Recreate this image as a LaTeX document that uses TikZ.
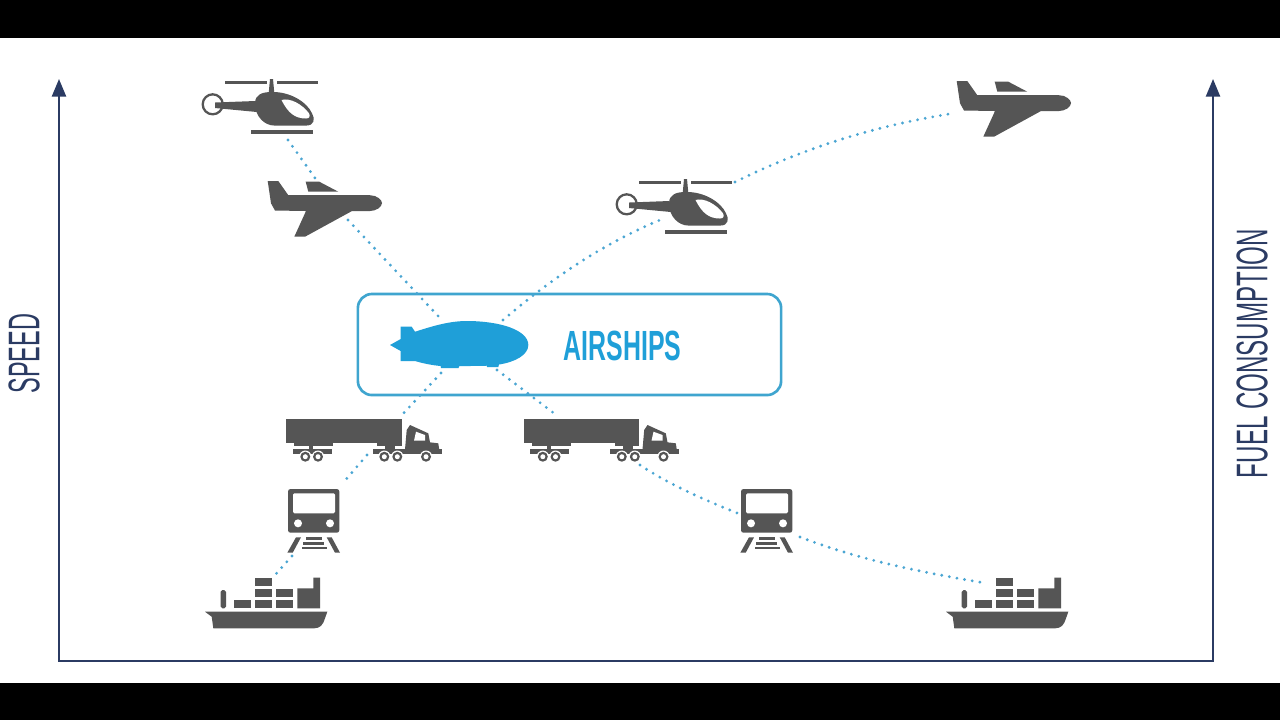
\documentclass[tikz,border=0pt]{standalone}
\usepackage{fontspec}
\setmainfont{Liberation Sans}
\usepackage{tikz}
\usetikzlibrary{arrows.meta,positioning}
\definecolor{iconcol}{HTML}{555555}
\definecolor{axiscol}{HTML}{2B3B63}
\definecolor{linkcol}{HTML}{4BA6D3}
\definecolor{boxcol}{HTML}{3FA5CF}
\definecolor{shipcol}{HTML}{1F9FD8}

\begin{document}
\begin{tikzpicture}[
        x=0.01cm,
        y=-0.01cm,
        axisline/.style={draw=axiscol, line width=0.6pt},
        link/.style={draw=linkcol, line width=0.9pt, line cap=round, dash pattern=on 0pt off 2.2pt},
        airbox/.style={draw=boxcol, line width=0.75pt, fill=white, rounded corners=4pt, minimum width=4.23cm, minimum height=1.01cm},
        axislabel/.style={text=axiscol, font=\fontsize{12.6}{14}\selectfont, inner sep=0pt},
        icon/.style={fill=iconcol, draw=none},
        >={Triangle[length=5pt,width=4pt]},
        helicopter/.pic={
            \fill[icon] (-35,-24) rectangle (7.3,-20.7);
            \fill[icon] (17.3,-24) rectangle (58.3,-20.7);
            \fill[icon] (10,-26) -- (13,-26) -- (14.5,-10) -- (8.5,-10) -- cycle;
            \draw[iconcol, line width=0.65pt] (-47.3,-0.7) circle (10);
            \fill[icon] (-45,-2.5) -- (-5,-4) -- (-3,7) -- (-45,3) -- cycle;
            \fill[icon] (-5,-1.7) .. controls (-5,-11) and (3,-13) .. (11.7,-13)
                .. controls (30,-13.5) and (47,-3) .. (52,8.3)
                .. controls (55.5,14) and (54,20.5) .. (46.7,20.5) -- (14,20.5)
                .. controls (5,20.5) and (-5,12) .. cycle;
            \fill[white] (21.5,-5) .. controls (30,-7.5) and (42,-1) .. (49,8.3)
                .. controls (50.5,11) and (49.5,13.5) .. (46,13.5)
                .. controls (35,13.5) and (28,8) .. cycle;
            \fill[icon] (-9,25.3) rectangle (53.3,29.3);
        },
        plane/.pic={
            \fill[icon] (-52.3,-24) -- (-41.7,-24) -- (-31.7,-9.8) -- (50,-9.8)
                .. controls (57,-9.8) and (62,-5) .. (62,-2)
                .. controls (62,2) and (56,6) .. (50,6) -- (32,6) -- (-15,31.7) -- (-25.7,31.7)
                -- (-14,6) -- (-45,5.5) -- (-49,-1.7) -- cycle;
            \fill[icon] (-14.3,-23.3) -- (-0.7,-23.3) -- (18.3,-13.3) -- (-11.7,-13.3) -- cycle;
        },
        truck/.pic={
            \fill[icon] (-74,-21) rectangle (41.7,3.3);
            \fill[icon] (-66,3.3) rectangle (-27,6);
            \fill[icon] (-51,6) rectangle (-47,10);
            \fill[icon] (-67.3,9.3) rectangle (-28.3,14.3);
            \fill[icon] (17,3.3) rectangle (41.7,6);
            \fill[icon] (25,6) rectangle (35,10);
            \fill[icon] (12.7,9.3) rectangle (81.7,14.3);
            \fill[icon] (45,9.3) -- (46.7,-10) -- (50,-15) -- (68.3,-6.7) -- (70,2.3) -- (78.3,3.3) -- (79.3,10) -- cycle;
            \fill[white] (54,0.7) -- (65,0.7) -- (65,-5) -- (56,-8.3) -- cycle;
            \foreach \wx in {-54.7,-42,24.3,37.3,66} {
                \fill[white] (\wx,16.7) circle (6.2);
                \fill[icon] (\wx,16.7) circle (5);
                \fill[white] (\wx,16.7) circle (2.5);
            }
        },
        train/.pic={
            \fill[icon, rounded corners=0.7pt] (-26,-31) rectangle (25.3,12.7);
            \fill[white, rounded corners=0.4pt] (-21,-26.7) rectangle (21,-6.7);
            \fill[white] (-16,3.3) circle (4);
            \fill[white] (16,3.3) circle (4);
            \fill[icon] (-18,17.3) -- (-13,17.3) -- (-21.3,32.7) -- (-26.7,32.7) -- cycle;
            \fill[icon] (12.7,17.3) -- (17.7,17.3) -- (26,32.7) -- (21,32.7) -- cycle;
            \fill[icon] (-8,17.3) rectangle (7.7,19.6);
            \fill[icon] (-10.7,22.2) rectangle (10,24.5);
            \fill[icon] (-12.3,26.8) rectangle (12.7,29.1);
        },
        ship/.pic={
            \fill[icon] (-62,8.7) -- (60.3,8.7) -- (58,15.3) .. controls (56,22) and (53,25.3) .. (47,25.3)
                -- (-53.7,25.3) -- (-55.3,13.7) -- cycle;
            \fill[icon, rounded corners=0.5pt] (-46.3,-13) rectangle (-41,5.3);
            \foreach \cx/\cy in {-33/-3,-12/-3,9/-3,-12/-14,9/-14,-12/-25.3} {
                \fill[icon] (\cx,\cy) rectangle ++(17,8.3);
            }
            \fill[icon] (30.3,-14.7) -- (46.3,-14.7) -- (46.3,-25.3) -- (53,-25.3) -- (53,5.3) -- (30.3,5.3) -- cycle;
        },
        airship/.pic={
            \fill[shipcol] (-70,0) -- (-59.3,-6) -- (-59.3,-18.3) -- (-48.3,-18.3) -- (-45,-13.3)
                .. controls (-30,-18) and (-12,-24) .. (6.7,-24)
                .. controls (40,-24) and (68.3,-15) .. (68.3,0)
                .. controls (68.3,10) and (55,17) .. (39,19.5)
                -- (38.3,22) -- (27,22) -- (26.7,20.7) .. controls (18,21) and (8,21) .. (-0.7,21)
                -- (-1.5,23) -- (-19,23) -- (-19.3,21) .. controls (-30,20) and (-38,18) .. (-45,16)
                -- (-59.3,16) -- (-59.3,6) -- cycle;
        }
    ]
        \useasboundingbox (0,0) rectangle (1280,720);
        \fill[black] (0,0) rectangle (1280,720);
        \fill[white] (0,38) rectangle (1280,683);

        % axes
        \coordinate (axisTL) at (59,79);
        \coordinate (axisBL) at (59,661);
        \coordinate (axisBR) at (1213,661);
        \coordinate (axisTR) at (1213,79);
        \draw[axisline, <->] (axisTL) -- (axisBL) -- (axisBR) -- (axisTR);
        \node[axislabel, rotate=90, xscale=0.53] (speed) at (24,353.5) {SPEED};
        \node[axislabel, rotate=90, xscale=0.544] (fuel) at (1252,353.5) {FUEL CONSUMPTION};

        \node[airbox] (box) at (569.5,344.5) {};
        \node[text=shipcol, font=\fontsize{12}{14}\selectfont\bfseries, xscale=0.59, inner sep=0pt] (airtext) at (622.5,345.5) {AIRSHIPS};

        % connector ends
        \coordinate (heliLs) at (288,140);
        \coordinate (planeLn) at (315,178);
        \coordinate (planeLs) at (348,220);
        \coordinate (airNW) at (440,318);
        \coordinate (airNE) at (503,320);
        \coordinate (heliRw) at (660,220);
        \coordinate (heliRe) at (735,182);
        \coordinate (planeRw) at (955,113);
        \coordinate (airSW) at (441,373);
        \coordinate (truckLn) at (400,417);
        \coordinate (truckLs) at (367,455);
        \coordinate (trainLn) at (342,484);
        \coordinate (trainLs) at (292,556);
        \coordinate (shipLn) at (275,575);
        \coordinate (airSE) at (497,370);
        \coordinate (truckRn) at (555,414);
        \coordinate (truckRs) at (640,465);
        \coordinate (trainRw) at (737,513);
        \coordinate (trainRe) at (800,537);
        \coordinate (shipRn) at (985,583);

        \draw[link] (heliLs) -- (planeLn);
        \draw[link] (planeLs) -- (airNW);
        \draw[link] (airNE) .. controls (550,280) and (600,245) .. (heliRw);
        \draw[link] (heliRe) .. controls (810,145) and (880,125) .. (planeRw);
        \draw[link] (airSW) -- (truckLn);
        \draw[link] (truckLs) -- (trainLn);
        \draw[link] (trainLs) -- (shipLn);
        \draw[link] (airSE) -- (truckRn);
        \draw[link] (truckRs) .. controls (670,485) and (705,500) .. (trainRw);
        \draw[link] (trainRe) .. controls (860,560) and (920,572) .. (shipRn);

        \pic (heliL) at (260,105) {helicopter};
        \pic (heliR) at (674,205) {helicopter};
        \pic (planeL) at (320,205) {plane};
        \pic (planeR) at (1009,105) {plane};
        \pic (truckL) at (360,440) {truck};
        \pic (truckR) at (597.5,440) {truck};
        \pic (trainL) at (314,520) {train};
        \pic (trainR) at (767,520) {train};
        \pic (shipL) at (267,603) {ship};
        \pic (shipR) at (1008,603) {ship};
        \pic (blimp) at (460,345) {airship};
    \end{tikzpicture}
\end{document}
